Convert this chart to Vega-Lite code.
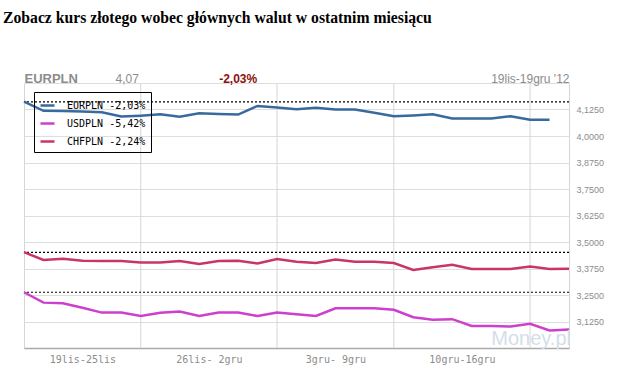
{
  "$schema": "https://vega.github.io/schema/vega-lite/v6.json",
  "width": 545,
  "height": 265,
  "autosize": {"type": "none"},
  "padding": {"left": 24, "top": 83, "right": 70, "bottom": 40},
  "background": "white",
  "title": {
    "text": "Zobacz kurs złotego wobec głównych walut w ostatnim miesiącu",
    "font": "Liberation Serif",
    "fontSize": 15.7,
    "fontWeight": "bold",
    "color": "black",
    "anchor": "start",
    "frame": "group",
    "dx": -21,
    "offset": 45
  },
  "config": {
    "view": {"stroke": "#d6d6d6"},
    "axis": {"title": null}
  },
  "datasets": {
    "series": [
      {"pair": "EURPLN", "d": 0, "v": 4.162}, {"pair": "EURPLN", "d": 1, "v": 4.119}, {"pair": "EURPLN", "d": 2, "v": 4.118},
      {"pair": "EURPLN", "d": 3, "v": 4.116}, {"pair": "EURPLN", "d": 4, "v": 4.112}, {"pair": "EURPLN", "d": 5, "v": 4.092},
      {"pair": "EURPLN", "d": 6, "v": 4.096}, {"pair": "EURPLN", "d": 7, "v": 4.102}, {"pair": "EURPLN", "d": 8, "v": 4.091},
      {"pair": "EURPLN", "d": 9, "v": 4.107}, {"pair": "EURPLN", "d": 10, "v": 4.104}, {"pair": "EURPLN", "d": 11, "v": 4.101},
      {"pair": "EURPLN", "d": 12, "v": 4.142}, {"pair": "EURPLN", "d": 13, "v": 4.135}, {"pair": "EURPLN", "d": 14, "v": 4.126},
      {"pair": "EURPLN", "d": 15, "v": 4.133}, {"pair": "EURPLN", "d": 16, "v": 4.125}, {"pair": "EURPLN", "d": 17, "v": 4.125},
      {"pair": "EURPLN", "d": 18, "v": 4.110}, {"pair": "EURPLN", "d": 19, "v": 4.093}, {"pair": "EURPLN", "d": 20, "v": 4.097},
      {"pair": "EURPLN", "d": 21, "v": 4.102}, {"pair": "EURPLN", "d": 22, "v": 4.083}, {"pair": "EURPLN", "d": 23, "v": 4.083},
      {"pair": "EURPLN", "d": 24, "v": 4.083}, {"pair": "EURPLN", "d": 25, "v": 4.093}, {"pair": "EURPLN", "d": 26, "v": 4.077},
      {"pair": "EURPLN", "d": 27, "v": 4.077},
      {"pair": "USDPLN", "d": 0, "v": 3.263}, {"pair": "USDPLN", "d": 1, "v": 3.214}, {"pair": "USDPLN", "d": 2, "v": 3.211},
      {"pair": "USDPLN", "d": 3, "v": 3.190}, {"pair": "USDPLN", "d": 4, "v": 3.167}, {"pair": "USDPLN", "d": 5, "v": 3.167},
      {"pair": "USDPLN", "d": 6, "v": 3.151}, {"pair": "USDPLN", "d": 7, "v": 3.166}, {"pair": "USDPLN", "d": 8, "v": 3.172},
      {"pair": "USDPLN", "d": 9, "v": 3.151}, {"pair": "USDPLN", "d": 10, "v": 3.167}, {"pair": "USDPLN", "d": 11, "v": 3.167},
      {"pair": "USDPLN", "d": 12, "v": 3.151}, {"pair": "USDPLN", "d": 13, "v": 3.167}, {"pair": "USDPLN", "d": 14, "v": 3.159},
      {"pair": "USDPLN", "d": 15, "v": 3.151}, {"pair": "USDPLN", "d": 16, "v": 3.187}, {"pair": "USDPLN", "d": 17, "v": 3.187},
      {"pair": "USDPLN", "d": 18, "v": 3.187}, {"pair": "USDPLN", "d": 19, "v": 3.180}, {"pair": "USDPLN", "d": 20, "v": 3.145},
      {"pair": "USDPLN", "d": 21, "v": 3.133}, {"pair": "USDPLN", "d": 22, "v": 3.136}, {"pair": "USDPLN", "d": 23, "v": 3.104},
      {"pair": "USDPLN", "d": 24, "v": 3.104}, {"pair": "USDPLN", "d": 25, "v": 3.101}, {"pair": "USDPLN", "d": 26, "v": 3.114},
      {"pair": "USDPLN", "d": 27, "v": 3.083}, {"pair": "USDPLN", "d": 28, "v": 3.087},
      {"pair": "CHFPLN", "d": 0, "v": 3.452}, {"pair": "CHFPLN", "d": 1, "v": 3.415}, {"pair": "CHFPLN", "d": 2, "v": 3.421},
      {"pair": "CHFPLN", "d": 3, "v": 3.412}, {"pair": "CHFPLN", "d": 4, "v": 3.410}, {"pair": "CHFPLN", "d": 5, "v": 3.410},
      {"pair": "CHFPLN", "d": 6, "v": 3.403}, {"pair": "CHFPLN", "d": 7, "v": 3.403}, {"pair": "CHFPLN", "d": 8, "v": 3.410},
      {"pair": "CHFPLN", "d": 9, "v": 3.396}, {"pair": "CHFPLN", "d": 10, "v": 3.410}, {"pair": "CHFPLN", "d": 11, "v": 3.412},
      {"pair": "CHFPLN", "d": 12, "v": 3.399}, {"pair": "CHFPLN", "d": 13, "v": 3.420}, {"pair": "CHFPLN", "d": 14, "v": 3.407},
      {"pair": "CHFPLN", "d": 15, "v": 3.401}, {"pair": "CHFPLN", "d": 16, "v": 3.417}, {"pair": "CHFPLN", "d": 17, "v": 3.407},
      {"pair": "CHFPLN", "d": 18, "v": 3.407}, {"pair": "CHFPLN", "d": 19, "v": 3.401}, {"pair": "CHFPLN", "d": 20, "v": 3.368},
      {"pair": "CHFPLN", "d": 21, "v": 3.381}, {"pair": "CHFPLN", "d": 22, "v": 3.393}, {"pair": "CHFPLN", "d": 23, "v": 3.373},
      {"pair": "CHFPLN", "d": 24, "v": 3.373}, {"pair": "CHFPLN", "d": 25, "v": 3.373}, {"pair": "CHFPLN", "d": 26, "v": 3.384},
      {"pair": "CHFPLN", "d": 27, "v": 3.373}, {"pair": "CHFPLN", "d": 28, "v": 3.374}
    ],
    "weeks": [{"d": 6}, {"d": 13}, {"d": 19}, {"d": 26}],
    "refs": [
      {"pair": "EURPLN", "start": 4.161},
      {"pair": "USDPLN", "start": 3.263},
      {"pair": "CHFPLN", "start": 3.451}
    ],
    "mark": [{"name": "Money.pl"}]
  },
  "resolve": {"axis": {"x": "independent", "y": "independent"}},
  "layer": [
    {
      "data": {"name": "weeks"},
      "mark": {"type": "rule", "color": "#d6d6d6", "strokeWidth": 1},
      "encoding": {
        "x": {
          "field": "d",
          "type": "quantitative",
          "scale": {"domain": [0, 28], "nice": false, "zero": false},
          "axis": {
            "orient": "top",
            "values": [0, 4.68, 10, 28],
            "labelExpr": "datum.value < 1 ? 'EURPLN' : datum.value < 5 ? '4,07' : datum.value < 11 ? '-2,03%' : '19lis-19gru \\'12'",
            "grid": false,
            "ticks": false,
            "domain": false,
            "labelPadding": 1,
            "labelBaseline": "alphabetic",
            "labelFont": "Liberation Sans",
            "labelFontSize": {"condition": {"test": "datum.value < 1", "value": 13}, "value": 12},
            "labelColor": {"condition": {"test": "datum.value > 9 && datum.value < 11", "value": "#8b1111"}, "value": "#8c8c8c"},
            "labelFontWeight": {"condition": {"test": "datum.value < 1 || (datum.value > 9 && datum.value < 11)", "value": "bold"}, "value": "normal"},
            "labelAlign": {"condition": {"test": "datum.value > 20", "value": "right"}, "value": "left"},
            "labelOverlap": false,
            "labelBound": false,
            "labelFlush": false
          }
        }
      }
    },
    {
      "data": {"name": "refs"},
      "mark": {"type": "rule", "color": "black", "strokeDash": [2, 2], "strokeWidth": 1.2},
      "encoding": {
        "y": {"field": "start", "type": "quantitative", "scale": {"domain": [3, 4.25], "nice": false, "zero": false}, "axis": null}
      }
    },
    {
      "data": {"name": "series"},
      "mark": {"type": "line", "strokeWidth": 2.5, "interpolate": "linear"},
      "encoding": {
        "x": {
          "field": "d",
          "type": "quantitative",
          "scale": {"domain": [0, 28], "nice": false, "zero": false},
          "axis": {
            "orient": "bottom",
            "values": [3, 9.5, 16, 22.5],
            "labelExpr": "datum.value < 5 ? '19lis-25lis' : datum.value < 10 ? '26lis- 2gru' : datum.value < 17 ? '3gru- 9gru' : '10gru-16gru'",
            "grid": false,
            "ticks": false,
            "domain": true,
            "domainColor": "#aaaaaa",
            "domainWidth": 1.5,
            "labelPadding": 6,
            "labelFont": "DejaVu Sans Mono",
            "labelFontSize": 10,
            "labelColor": "#8c8c8c"
          }
        },
        "y": {
          "field": "v",
          "type": "quantitative",
          "scale": {"domain": [3, 4.25], "nice": false, "zero": false},
          "axis": {
            "orient": "right",
            "values": [3, 3.125, 3.25, 3.375, 3.5, 3.625, 3.75, 3.875, 4, 4.125, 4.25],
            "labelExpr": "datum.value < 3.06 || datum.value > 4.2 ? '' : replace(format(datum.value, '.4f'), '.', ',')",
            "grid": true,
            "gridColor": "#dedede",
            "ticks": false,
            "domain": false,
            "labelPadding": 7,
            "labelFont": "Liberation Sans",
            "labelFontSize": 9,
            "labelColor": "#8c8c8c",
            "labelOverlap": false
          }
        },
        "color": {
          "field": "pair",
          "type": "nominal",
          "scale": {"domain": ["EURPLN", "USDPLN", "CHFPLN"], "range": ["#386a9e", "#cc40cc", "#c83668"]},
          "legend": {
            "orient": "none",
            "legendX": 10,
            "legendY": 9,
            "title": null,
            "strokeColor": "black",
            "padding": 5,
            "symbolType": "stroke",
            "symbolSize": 196,
            "symbolStrokeWidth": 2.5,
            "labelFont": "DejaVu Sans Mono",
            "labelFontSize": 10,
            "labelColor": "black",
            "labelOffset": 11,
            "rowPadding": 4,
            "labelExpr": "datum.label == 'EURPLN' ? 'EURPLN -2,03% ' : datum.label == 'USDPLN' ? 'USDPLN -5,42% ' : 'CHFPLN -2,24% '"
          }
        }
      }
    },
    {
      "data": {"name": "mark"},
      "mark": {"type": "text", "align": "right", "baseline": "bottom", "font": "Liberation Sans", "fontSize": 20, "color": "#d3deea", "dx": 2, "dy": 1},
      "encoding": {
        "x": {"datum": 28, "type": "quantitative", "axis": null},
        "y": {"datum": 3, "type": "quantitative", "axis": null},
        "text": {"field": "name", "type": "nominal"}
      }
    }
  ]
}
